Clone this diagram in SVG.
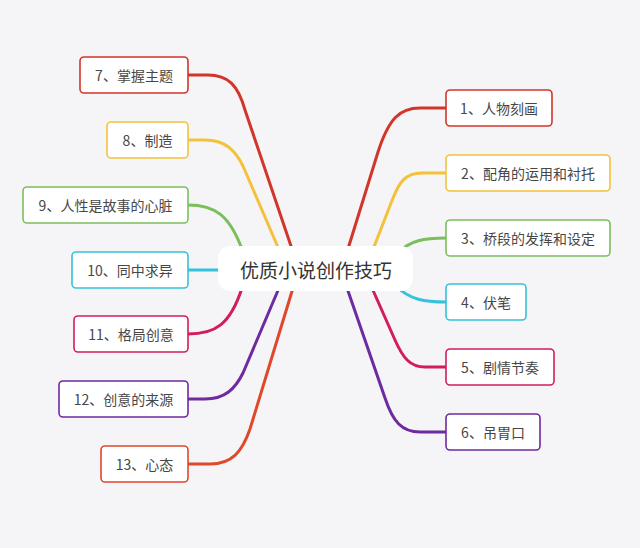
<svg xmlns="http://www.w3.org/2000/svg" width="640" height="548" viewBox="0 0 640 548">
<style>
.bg{fill:#f5f4f7}
.c{fill:none;stroke-width:3;stroke-linecap:round;stroke-linejoin:round}
.n rect{fill:#ffffff;stroke-width:1.6}
.n text{font-family:"Noto Sans CJK SC","Noto Sans",sans-serif;font-size:14px;fill:#474747;text-anchor:middle;dominant-baseline:central}
.red{stroke:#d2362a}
.org{stroke:#e0482a}
.yel{stroke:#f4c23a}
.grn{stroke:#7bbf5c}
.cyn{stroke:#35c2da}
.crm{stroke:#d41c5c}
.pur{stroke:#6e2aa0}
#center rect{fill:#ffffff}
#center text{font-family:"Noto Sans CJK SC","Noto Sans",sans-serif;font-size:19px;fill:#333333;text-anchor:middle;dominant-baseline:central}
</style>
<rect class="bg" x="0" y="0" width="640" height="548"/>
<g id="connectors">
<path class="c red" d="M188,75 L208,75 C228,75 238,85 245,110 L293,252"/>
<path class="c yel" d="M188,140 L205,140 C225,140 235,150 243,166 L280,252"/>
<path class="c grn" d="M188,205 C215,205 230,215 243,252"/>
<path class="c cyn" d="M188,270 L222,270"/>
<path class="c crm" d="M188,334 C215,334 230,325 242,288"/>
<path class="c pur" d="M188,399 L205,399 C225,399 235,389 243,373 L279,288"/>
<path class="c org" d="M188,464 L210,464 C232,464 242,452 250,429 L293,288"/>
<path class="c red" d="M446,108 L420,108 C400,108 389,118 378,152 L347,252"/>
<path class="c yel" d="M446,173 L422,173 C405,173 399,183 393,198 L372,252"/>
<path class="c grn" d="M446,238 C425,238 410,240 396,254"/>
<path class="c cyn" d="M446,302 C425,302 410,300 396,286"/>
<path class="c crm" d="M446,367 L425,367 C410,367 403,358 395,340 L372,288"/>
<path class="c pur" d="M446,432 L420,432 C402,432 393,422 385,398 L347,288"/>
</g>
<g id="center"><rect x="218" y="246" width="195" height="45" rx="12"/><text x="316" y="269">优质小说创作技巧</text></g>
<g id="n1" class="n"><rect class="red" x="446" y="90" width="106" height="36" rx="4"/><text x="499" y="108">1、人物刻画</text></g>
<g id="n2" class="n"><rect class="yel" x="446" y="155" width="164" height="36" rx="4"/><text x="528" y="173">2、配角的运用和衬托</text></g>
<g id="n3" class="n"><rect class="grn" x="446" y="220" width="164" height="36" rx="4"/><text x="528" y="238">3、桥段的发挥和设定</text></g>
<g id="n4" class="n"><rect class="cyn" x="446" y="284" width="80" height="36" rx="4"/><text x="486" y="302">4、伏笔</text></g>
<g id="n5" class="n"><rect class="crm" x="446" y="349" width="108" height="36" rx="4"/><text x="500" y="367">5、剧情节奏</text></g>
<g id="n6" class="n"><rect class="pur" x="446" y="414" width="94" height="36" rx="4"/><text x="493" y="432">6、吊胃口</text></g>
<g id="n7" class="n"><rect class="red" x="80" y="57" width="108" height="36" rx="4"/><text x="134" y="75">7、掌握主题</text></g>
<g id="n8" class="n"><rect class="yel" x="107" y="122" width="81" height="36" rx="4"/><text x="147.5" y="140">8、制造</text></g>
<g id="n9" class="n"><rect class="grn" x="23" y="187" width="165" height="36" rx="4"/><text x="105.5" y="205">9、人性是故事的心脏</text></g>
<g id="n10" class="n"><rect class="cyn" x="72" y="252" width="116" height="36" rx="4"/><text x="130" y="270">10、同中求异</text></g>
<g id="n11" class="n"><rect class="crm" x="74" y="316" width="114" height="36" rx="4"/><text x="131" y="334">11、格局创意</text></g>
<g id="n12" class="n"><rect class="pur" x="59" y="381" width="129" height="36" rx="4"/><text x="123.5" y="399">12、创意的来源</text></g>
<g id="n13" class="n"><rect class="org" x="101" y="446" width="87" height="36" rx="4"/><text x="144.5" y="464">13、心态</text></g>
</svg>
